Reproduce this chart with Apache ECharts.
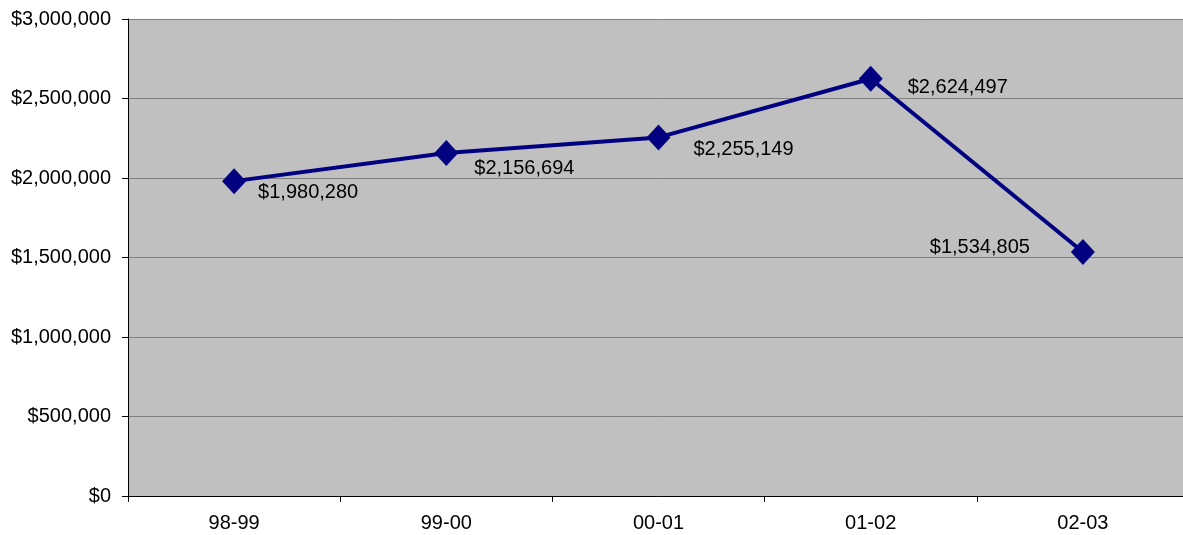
<!DOCTYPE html>
<html>
<head>
<meta charset="utf-8">
<style>
  html, body { margin: 0; padding: 0; background: #ffffff; overflow: hidden; }
  /* plot area runs slightly past the right edge of the window */
  #chart { width: 1190px; height: 535px; }
</style>
<script src="https://cdn.jsdelivr.net/npm/echarts@6/dist/echarts.min.js"></script>
</head>
<body>
<div id="chart"></div>
<script>
// Fiscal years and yearly totals
const years = ['98-99', '99-00', '00-01', '01-02', '02-03'];
const totals = [1980280, 2156694, 2255149, 2624497, 1534805];
// Placement of each value label: side, gap from the marker, vertical shift
const labelSide = ['right', 'right', 'right', 'right', 'left'];
const labelGap = [12, 16, 23, 25, 41];
const labelDy = [11, 15, 12, 9, -4];

function money(v) {
  return '$' + String(Math.round(v)).replace(/\B(?=(\d{3})+(?!\d))/g, ',');
}

const FONT = 'Liberation Sans, Arial, sans-serif';
const chart = echarts.init(document.getElementById('chart'), null, { renderer: 'canvas' });

chart.setOption({
  animation: false,
  backgroundColor: '#ffffff',
  grid: {
    left: 128, right: 1, top: 19, bottom: 39,
    show: true, backgroundColor: '#c0c0c0', borderWidth: 0
  },
  xAxis: {
    type: 'category',
    data: years,
    boundaryGap: true,
    axisLine: { show: true, lineStyle: { color: '#000000', width: 1 } },
    axisTick: { show: true, length: 6, lineStyle: { color: '#000000' } },
    axisLabel: { color: '#000000', fontFamily: FONT, fontSize: 20, margin: 17 },
    splitLine: { show: false }
  },
  yAxis: {
    type: 'value',
    min: 0, max: 3000000, interval: 500000,
    axisLine: { show: true, lineStyle: { color: '#000000', width: 1 } },
    axisTick: { show: true, length: 6, lineStyle: { color: '#000000' } },
    axisLabel: { color: '#000000', fontFamily: FONT, fontSize: 20, margin: 17, formatter: money },
    splitLine: { show: true, lineStyle: { color: '#808080', width: 1 } }
  },
  series: [{
    type: 'line',
    data: totals.map((v, i) => ({
      value: v,
      label: {
        position: labelSide[i],
        distance: labelGap[i],
        offset: [0, labelDy[i]]
      }
    })),
    symbol: 'diamond',
    symbolSize: [24, 26],
    lineStyle: { color: '#000080', width: 4 },
    itemStyle: { color: '#000080' },
    label: {
      show: true,
      color: '#000000',
      fontFamily: FONT,
      fontSize: 20,
      formatter: p => money(p.value)
    }
  }]
});
</script>
</body>
</html>
